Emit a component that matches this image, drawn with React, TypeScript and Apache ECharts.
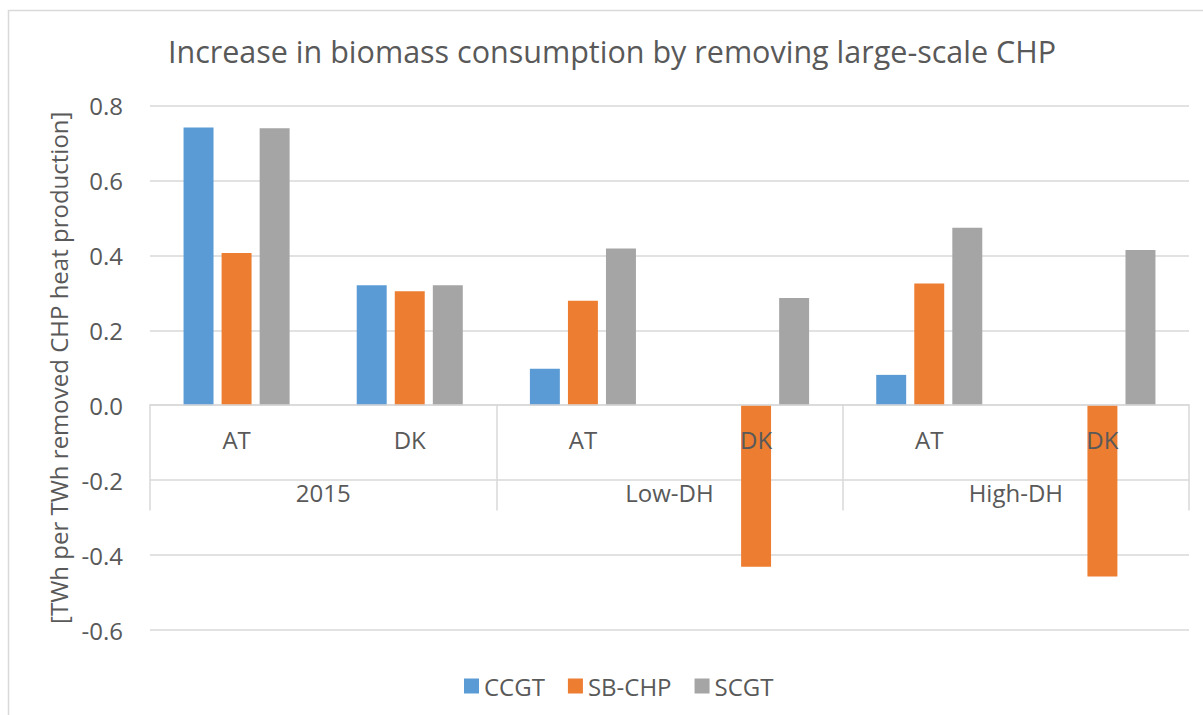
import React, { useEffect, useRef } from "react";
import * as echarts from "echarts";

const subCategories = ["AT", "DK", "AT", "DK", "AT", "DK"];
const groups = ["2015", "Low-DH", "High-DH"];
const ccgt = [0.741, 0.32, 0.097, null, 0.081, null];
const sbChp = [0.406, 0.304, 0.279, -0.431, 0.325, -0.457];
const scgt = [0.739, 0.32, 0.418, 0.286, 0.474, 0.414];
const titleText = "Increase in biomass consumption by removing large-scale CHP";
const yName = "[TWh per TWh removed CHP heat production]";

const FONT = "'Open Sans', 'Noto Sans', sans-serif";
const TXT = "#595959";
const LINE = "#d9d9d9";
const ZERO_OFFSET = -225.5;

export default function App() {
  const ref = useRef<HTMLDivElement>(null);
  useEffect(() => {
    document.body.style.margin = "0";
    const chart = echarts.init(ref.current!, null, { renderer: "svg" });
    const barCommon = {
      type: "bar",
      xAxisIndex: 0,
      yAxisIndex: 0,
      barWidth: "17.3%",
      barGap: "27%",
    };
    chart.setOption({
      animation: false,
      backgroundColor: "#ffffff",
      textStyle: { fontFamily: FONT },
      graphic: [
        {
          type: "rect",
          shape: { x: 8.5, y: 10.5, width: 1300, height: 800 },
          style: { fill: "none", stroke: LINE, lineWidth: 1.5 },
          silent: true,
          z: -1,
        },
        {
          type: "text",
          x: 612,
          y: 51,
          style: {
            text: titleText,
            fill: TXT,
            font: `30.5px ${FONT}`,
            textAlign: "center",
            textVerticalAlign: "middle",
          },
        },
      ],
      legend: {
        left: 459,
        top: 669,
        itemWidth: 15,
        itemHeight: 15,
        itemGap: 23,
        icon: "rect",
        textStyle: { color: TXT, fontSize: 24, fontFamily: FONT },
        data: ["CCGT", "SB-CHP", "SCGT"],
      },
      grid: { left: 150, right: 14, top: 105.5, bottom: 85, containLabel: false, outerBoundsMode: "none" },
      xAxis: [
        {
          type: "category",
          data: subCategories,
          position: "bottom",
          offset: ZERO_OFFSET,
          z: 10,
          axisLine: { onZero: false, lineStyle: { color: LINE, width: 1.5 } },
          axisTick: { show: false },
          axisLabel: { color: TXT, fontSize: 24, fontFamily: FONT, margin: 23 },
          splitLine: { show: false },
        },
        {
          type: "category",
          data: groups,
          position: "bottom",
          offset: ZERO_OFFSET,
          z: 10,
          axisLine: { show: false, onZero: false },
          axisTick: { show: true, length: 106, lineStyle: { color: LINE, width: 1.5 } },
          axisLabel: { color: TXT, fontSize: 24, fontFamily: FONT, margin: 76 },
          splitLine: { show: false },
        },
      ],
      yAxis: {
        type: "value",
        min: -0.6,
        max: 0.8,
        interval: 0.2,
        name: yName,
        nameLocation: "middle",
        nameGap: 80,
        nameTextStyle: { color: TXT, fontSize: 24, fontFamily: FONT },
        axisLine: { show: false },
        axisTick: { show: false },
        axisLabel: {
          color: TXT,
          fontSize: 24,
          fontFamily: FONT,
          margin: 27,
          formatter: (v: number) => (Math.abs(v) < 1e-9 ? "0.0" : v.toFixed(1)),
        },
        splitLine: { lineStyle: { color: LINE, width: 1.5 } },
      },
      series: [
        { ...barCommon, name: "CCGT", data: ccgt, itemStyle: { color: "#5b9bd5" } },
        { ...barCommon, name: "SB-CHP", data: sbChp, itemStyle: { color: "#ed7d31" } },
        { ...barCommon, name: "SCGT", data: scgt, itemStyle: { color: "#a5a5a5" } },
      ],
    });
    return () => chart.dispose();
  }, []);
  return <div ref={ref} style={{ width: 1203, height: 715 }} />;
}
